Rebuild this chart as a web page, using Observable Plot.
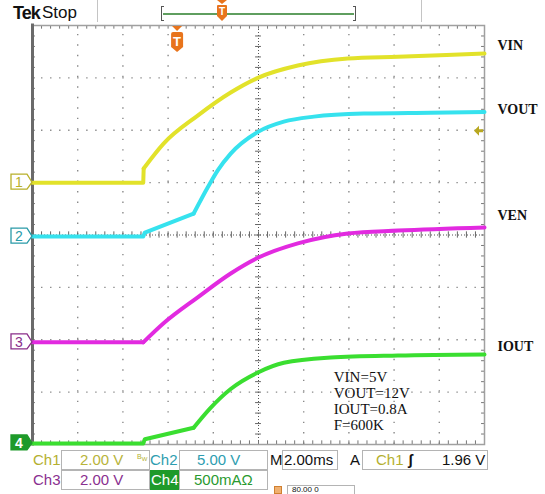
<!DOCTYPE html>
<html><head><meta charset="utf-8">
<script src="https://cdn.jsdelivr.net/npm/d3@7"></script>
<script src="https://cdn.jsdelivr.net/npm/@observablehq/plot@0.6"></script>
<style>
html,body{margin:0;padding:0;background:#fff;}
#wrap{position:relative;width:545px;height:494px;overflow:hidden;font-family:"Liberation Sans",Arial,sans-serif;}
#wrap svg{position:absolute;left:0;top:0;}
.abs{position:absolute;white-space:nowrap;line-height:1;}
.box{position:absolute;border:1px solid #b4b4b4;box-sizing:border-box;}
</style></head><body><div id="wrap"></div>
<script>
// ---------------- data ----------------
const channelNames = ["VIN", "VOUT", "VEN", "IOUT"];
const channelNumbers = ["1", "2", "3", "4"];
const channelScale = [2, 5, 2, 0.5];            // units per division (2.00V, 5.00V, 2.00V, 500mA)
const channelPosition = [1, -0.03, -2.05, -3.98]; // ground position, divisions from centre
const channelColors = ["#e2e22a", "#36e2ee", "#e22ae0", "#3ade30"];

// time in ms (2.00 ms/div, 10 divisions)
const vinTime  = [0, 4.9, 4.92, 5.8, 7.31, 8.77, 10.0, 11.74, 13.95, 16.17, 20];
const vinVolt  = [0, 0, 0.54, 1.49, 2.56, 3.44, 4.01, 4.47, 4.74, 4.81, 4.93];
const voutTime = [0, 4.9, 4.97, 7.13, 7.75, 8.19, 8.77, 10.0, 11.12, 12.45, 14.66, 17.63, 20];
const voutVolt = [0, 0, 0.38, 2.19, 4.68, 6.30, 7.92, 10.02, 10.97, 11.45, 11.74, 11.83, 11.9];
const venTime  = [0, 4.9, 5.8, 7.31, 8.77, 10.0, 11.74, 13.95, 16.17, 20];
const venVolt  = [0, 0, 0.73, 1.72, 2.63, 3.24, 3.78, 4.16, 4.27, 4.39];
const ioutTime = [0, 4.9, 4.97, 7.13, 7.88, 8.77, 10.0, 11.12, 13.2, 16.17, 20];
const ioutAmp  = [0, 0, 0.04, 0.15, 0.34, 0.52, 0.68, 0.77, 0.82, 0.84, 0.85];
// index where each trace stops being straight (step / ramp) and becomes a smooth curve
const curveStart = [2, 3, 1, 3];

const triggerTime = 6.42;     // ms
const triggerLevel = 1.96;    // V on Ch1
const annotationLines = ["VIN=5V", "VOUT=12V", "IOUT=0.8A", "F=600K"];
const annotationTime = 13.33, annotationDiv = -2.58;

// ---------------- build ----------------
const seriesT = [vinTime, voutTime, venTime, ioutTime];
const seriesV = [vinVolt, voutVolt, venVolt, ioutAmp];
const straight = [], curved = [];
seriesT.forEach((ts, c) => ts.forEach((t, i) => {
  const r = {ch: channelNames[c], t, div: seriesV[c][i] / channelScale[c] + channelPosition[c]};
  if (i <= curveStart[c]) straight.push(r);
  if (i >= curveStart[c]) curved.push(r);
}));

const gridX = [2, 4, 6, 8, 12, 14, 16, 18];
const gridY = [-3, -2, -1, 1, 2, 3];
const minorX = d3.range(0, 20.001, 0.4);
const minorY = d3.range(-4, 4.001, 0.2);
const lastDiv = channelNames.map((n, c) => seriesV[c][seriesV[c].length - 1] / channelScale[c] + channelPosition[c]);
const labelDy = [-8, -2, -12, -8];

const plot = Plot.plot({
  width: 545, height: 494,
  marginLeft: 32, marginRight: 61, marginTop: 25, marginBottom: 50,
  x: {domain: [0, 20], axis: null},
  y: {domain: [-4, 4], axis: null},
  color: {domain: channelNames, range: channelColors},
  style: {background: "transparent", overflow: "visible"},
  marks: [
    Plot.ruleX(gridX, {y1: -4, y2: 4, stroke: "#8a8a8a", strokeWidth: 1.4, strokeDasharray: "1.4 9.08"}),
    Plot.ruleY(gridY, {x1: 0, x2: 20, stroke: "#8a8a8a", strokeWidth: 1.4, strokeDasharray: "1.4 7.63"}),
    Plot.ruleX([10], {y1: -4, y2: 4, stroke: "#555", strokeDasharray: "1 2"}),
    Plot.ruleY([0], {x1: 0, x2: 20, stroke: "#555", strokeDasharray: "1 2"}),
    Plot.ruleX(minorX, {x: d => d, y1: -0.06, y2: 0.06, stroke: "#666"}),
    Plot.ruleY(minorY, {y: d => d, x1: 9.87, x2: 10.13, stroke: "#666"}),
    Plot.ruleX(minorX, {x: d => d, y1: 4, y2: 3.93, stroke: "#777"}),
    Plot.ruleX(minorX, {x: d => d, y1: -4, y2: -3.93, stroke: "#777"}),
    Plot.ruleY(minorY, {y: d => d, x1: 19.87, x2: 20, stroke: "#777"}),
    Plot.ruleY(minorY, {y: d => d, x1: 0, x2: 0.13, stroke: "#777"}),
    Plot.frame({stroke: "#a0a0a0", strokeWidth: 1.5}),
    Plot.ruleX([0], {y1: -4.03, y2: 4.03, stroke: "#6a6a6a", strokeWidth: 3}),
    Plot.line(straight, {x: "t", y: "div", z: "ch", stroke: "ch", strokeWidth: 4, curve: "linear", strokeLinejoin: "round", strokeLinecap: "round"}),
    Plot.line(curved, {x: "t", y: "div", z: "ch", stroke: "ch", strokeWidth: 4, curve: "monotone-x", strokeLinecap: "round"}),
    ...channelNames.map((name, i) => Plot.text([name], {x: 20, y: lastDiv[i], dx: 13, dy: labelDy[i],
      text: d => d, textAnchor: "start", fontFamily: "Liberation Serif", fontWeight: "bold", fontSize: 14, fill: "#111"})),
    Plot.text([annotationLines.join("\n")], {x: annotationTime, y: annotationDiv, text: d => d,
      textAnchor: "start", lineAnchor: "top", lineHeight: 1.07, fontFamily: "Liberation Serif", fontSize: 15, fill: "#111"})
  ]
});

const wrap = document.getElementById("wrap");
wrap.appendChild(plot);
const xs = plot.scale("x"), ys = plot.scale("y");
const svg = d3.select(plot);

// channel ground markers
const markerStroke = ["#b8b02a", "#2a9aa8", "#8a2f8a", "#1e9a2a"];
channelNumbers.forEach((n, c) => {
  const cy = ys.apply(channelPosition[c]);
  const g = svg.append("g");
  const filled = c === 3;
  g.append("path").attr("d", `M11,${cy-8}H27L32,${cy}L27,${cy+7}H11Z`)
    .attr("fill", filled ? "#1e9a2a" : "#fff").attr("stroke", markerStroke[c]).attr("stroke-width", 1.3);
  g.append("text").attr("x", 19).attr("y", cy + 5).attr("text-anchor", "middle")
    .attr("font-size", 14).attr("font-family", "Liberation Sans").attr("font-weight", filled ? "bold" : "normal")
    .attr("fill", filled ? "#fff" : markerStroke[c]).text(n);
});

// trigger position marker
const tx = xs.apply(triggerTime), topY = ys.apply(4);
const tg = svg.append("g");
tg.append("path").attr("d", `M${tx-5},${topY+1}H${tx+5}L${tx},${topY+6}Z`).attr("fill", "#e8741c");
tg.append("path").attr("d", `M${tx-6},${topY+9}Q${tx-6},${topY+7} ${tx-4},${topY+7}H${tx+4}Q${tx+6},${topY+7} ${tx+6},${topY+9}V${topY+22}L${tx},${topY+27}L${tx-6},${topY+22}Z`).attr("fill", "#e8741c");
tg.append("text").attr("x", tx).attr("y", topY + 21).attr("text-anchor", "middle").attr("font-size", 13)
  .attr("font-family", "Liberation Sans").attr("font-weight", "bold").attr("fill", "#fff").text("T");

// trigger level marker
const ly = ys.apply(triggerLevel / channelScale[0] + channelPosition[0]);
const rx = xs.apply(20);
svg.append("path").attr("d", `M${rx-10},${ly}L${rx-5},${ly-5}V${ly-1.5}H${rx-1}V${ly+1.5}H${rx-5}V${ly+5}Z`).attr("fill", "#b8a820");

// ---------------- header & readouts (HTML text) ----------------
function add(html, css) { const d = document.createElement("div"); d.className = "abs"; d.innerHTML = html; Object.assign(d.style, css); wrap.appendChild(d); return d; }
function box(l, t, w, h) { const d = document.createElement("div"); d.className = "box"; Object.assign(d.style, {left: l+"px", top: t+"px", width: w+"px", height: h+"px"}); wrap.appendChild(d); }

add("Tek", {left: "13px", top: "4px", fontSize: "18px", fontWeight: "bold", letterSpacing: "-1px", color: "#111"});
add("Stop", {left: "42px", top: "4px", fontSize: "17px", color: "#111"});
add("", {left: "97px", top: "0px", width: "1px", height: "22px", background: "#c4c4c4"});
add("", {left: "421px", top: "0px", width: "1px", height: "22px", background: "#c4c4c4"});
add("", {left: "161px", top: "6px", width: "3px", height: "15px", borderLeft: "1.5px solid #555", borderTop: "1px solid #555", borderBottom: "1px solid #555", boxSizing: "border-box"});
add("", {left: "353px", top: "6px", width: "3px", height: "15px", borderRight: "1.5px solid #555", borderTop: "1px solid #555", borderBottom: "1px solid #555", boxSizing: "border-box"});
add("", {left: "163px", top: "13px", width: "191px", height: "2px", background: "#5f9e5f"});
add('<svg width="12" height="22"><path d="M1,0H11L6,4Z" fill="#e8741c"/><path d="M1,6Q1,5 2,5H10Q11,5 11,6V16L6,21L1,16Z" fill="#e8741c"/><text x="6" y="15" text-anchor="middle" font-size="10" font-weight="bold" fill="#fff" font-family="Liberation Sans">T</text></svg>', {left: "216px", top: "0px"});

const fs = "15px";
// row 1
add("Ch1", {left: "33px", top: "452px", fontSize: fs, color: "#b4b030"});
box(61, 450, 89, 20);
add("2.00 V", {left: "80px", top: "452px", fontSize: fs, color: "#b8b43a"});
add("B<sub style='font-size:6px'>W</sub>", {left: "137px", top: "453px", fontSize: "7px", color: "#b4b030"});
add("Ch2", {left: "150px", top: "452px", fontSize: fs, color: "#2e9db0"});
box(179, 450, 89, 20);
add("5.00 V", {left: "197px", top: "452px", fontSize: fs, color: "#2e9db0"});
add("M", {left: "270px", top: "452px", fontSize: fs, color: "#111"});
box(282, 450, 56, 20);
add("2.00ms", {left: "284px", top: "452px", fontSize: fs, color: "#111"});
add("A", {left: "350px", top: "452px", fontSize: fs, color: "#111"});
box(362, 450, 126, 20);
add("Ch1", {left: "376px", top: "452px", fontSize: fs, color: "#b4b030"});
add("ʃ", {left: "408px", top: "452px", fontSize: fs, fontWeight: "bold", color: "#111"});
add("1.96 V", {left: "442px", top: "452px", fontSize: fs, color: "#111"});
// row 2
add("Ch3", {left: "33px", top: "472px", fontSize: fs, color: "#8a3090"});
box(61, 470, 89, 20);
add("2.00 V", {left: "80px", top: "472px", fontSize: fs, color: "#8a3090"});
add("Ch4", {left: "150px", top: "470px", fontSize: fs, color: "#fff", background: "#1e9a2a", padding: "2px 1px 3px 1px"});
box(179, 470, 89, 20);
add("500mAΩ", {left: "194px", top: "472px", fontSize: fs, color: "#2a9a30"});
// partially visible bottom line
add("", {left: "274px", top: "486px", width: "8px", height: "8px", background: "#f0b070", border: "1px solid #d08030", boxSizing: "border-box"});
box(287, 485, 68, 12);
add("80.00 0", {left: "292px", top: "485.5px", fontSize: "8px", color: "#111"});
</script></body></html>
